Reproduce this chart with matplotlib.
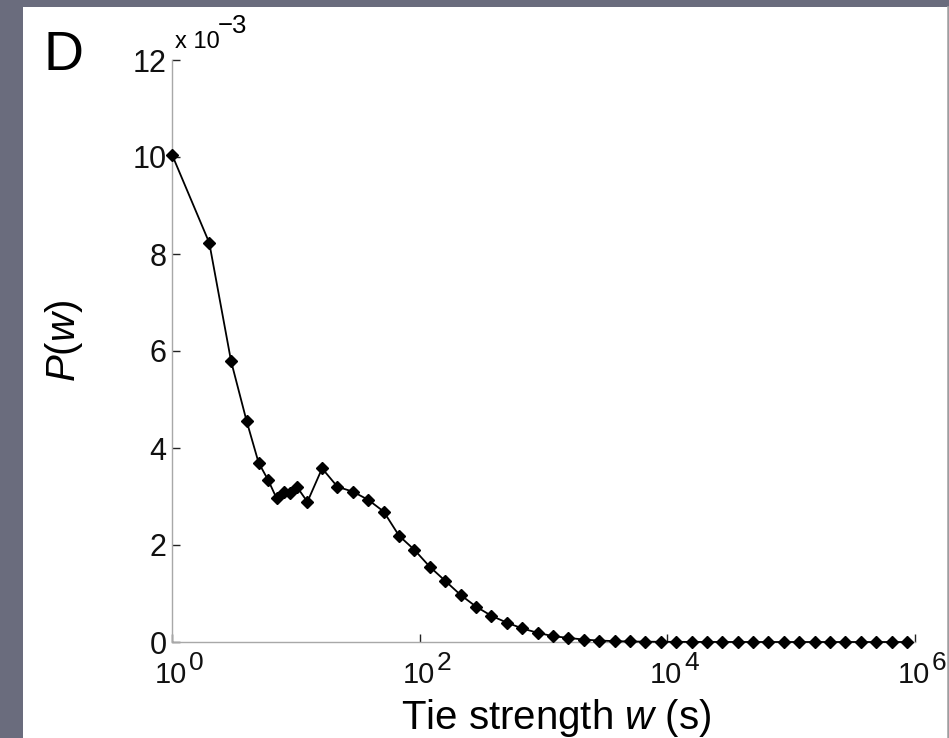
import matplotlib
matplotlib.use("Agg")
from matplotlib import pyplot as plt
from matplotlib.patches import Rectangle
from matplotlib.ticker import FuncFormatter, NullLocator, NullFormatter
import numpy as np

plt.rcParams['font.family'] = ['Liberation Sans', 'DejaVu Sans']
plt.rcParams['mathtext.fontset'] = 'custom'
plt.rcParams['mathtext.rm'] = 'Liberation Sans'
plt.rcParams['mathtext.it'] = 'Liberation Sans:italic'

# tie strength bins (seconds) and P(w) in units of 1e-3
w = [1, 2, 3, 4, 5, 6, 7, 8, 9, 10.2, 12.4,
     16.3, 21.7, 28.9, 38.5, 51.2, 68.2, 90.7, 120.8, 160.9, 214.1,
     285.1, 379.6, 505.3, 672.8, 896, 1193, 1588, 2114, 2814, 3747,
     4989, 6642, 8843, 11773, 15676, 20870, 27785, 36993, 49250, 65568,
     87300, 116230, 154740, 206010, 274270, 365150, 486150, 647250, 861700]
p_w = [10.05, 8.23, 5.79, 4.56, 3.70, 3.33, 2.96, 3.10, 3.07, 3.20, 2.89,
       3.58, 3.20, 3.10, 2.93, 2.69, 2.19, 1.90, 1.55, 1.26, 0.97,
       0.73, 0.54, 0.40, 0.28, 0.19, 0.12, 0.085, 0.05, 0.03, 0.018,
       0.011, 0.007, 0.004, 0.003, 0.002, 0.0014, 0.001, 0.0007, 0.0005, 0.0003,
       0.0002, 0.00015, 0.0001, 0.00007, 0.00005, 0.00003, 0.00002, 0.00001, 0.00001]
p_w = [v * 1e-3 for v in p_w]

y_ticks = [0, 2e-3, 4e-3, 6e-3, 8e-3, 10e-3, 12e-3]
x_ticks = [1, 1e2, 1e4, 1e6]

W, H = 949, 738
fig = plt.figure(figsize=(W / 100, H / 100), dpi=100)
fig.patch.set_facecolor('#6a6c7d')

# white slide panel behind the axes
fig.patches.append(Rectangle((23 / W, 0), (948 - 23) / W, (H - 7) / H,
                             transform=fig.transFigure, facecolor='white',
                             edgecolor='none', zorder=-10))
fig.add_artist(plt.Line2D([948 / W, 948 / W], [0, (H - 7) / H],
                          transform=fig.transFigure, color='#a8a8a8', lw=1.2,
                          zorder=-9))

ax = fig.add_axes([172 / W, (H - 642) / H, (915 - 172) / W, (642 - 60) / H])
ax.set_facecolor('none')

ax.plot(w, p_w, color='black', lw=1.3, marker='D', markersize=5.8,
        markerfacecolor='black', markeredgecolor='black', clip_on=False, zorder=3)

ax.set_xscale('log')
ax.set_xlim(1, 1e6)
ax.set_ylim(0, 12e-3)
ax.set_xticks(x_ticks)
ax.xaxis.set_major_formatter(NullFormatter())
ax.xaxis.set_minor_locator(NullLocator())
ax.set_yticks(y_ticks)
ax.yaxis.set_major_formatter(FuncFormatter(lambda v, pos: '%d' % round(v * 1e3)))

for side in ('top', 'right'):
    ax.spines[side].set_visible(False)
for side in ('left', 'bottom'):
    ax.spines[side].set_color('#a8a8a8')
    ax.spines[side].set_linewidth(1.0)

ax.tick_params(axis='both', direction='in', length=6, width=1.0, colors='#222222',
               labelsize=22, labelcolor='#111111')
ax.tick_params(axis='y', pad=4)

# MATLAB-style decade labels with a large exponent
for t in x_ticks:
    ax.annotate('10', xy=(t, 0), xycoords=('data', 'axes fraction'),
                xytext=(-1, -41), textcoords='offset pixels',
                ha='center', va='baseline', fontsize=21, color='#111111')
    ax.annotate('%d' % round(np.log10(t)), xy=(t, 0), xycoords=('data', 'axes fraction'),
                xytext=(17, -28), textcoords='offset pixels',
                ha='left', va='baseline', fontsize=19, color='#111111')

ax.set_xlabel('Tie strength $w$ (s)', fontsize=29)
ax.xaxis.set_label_coords(0.517, -0.094)
ax.set_ylabel('$P(w)$', fontsize=29)
ax.yaxis.set_label_coords(-0.117, 0.517)

# scale factor above the y axis
ax.annotate('x 10', xy=(0, 1), xycoords='axes fraction', xytext=(3, 12),
            textcoords='offset pixels', ha='left', va='baseline', fontsize=17)
ax.annotate('\u22123', xy=(0, 1), xycoords='axes fraction', xytext=(46, 27),
            textcoords='offset pixels', ha='left', va='baseline', fontsize=18.5)
fig.text(44 / W, 1 - 70 / H, 'D', fontsize=40, ha='left', va='baseline')

fig.savefig('out.png', dpi=100, facecolor=fig.get_facecolor())
